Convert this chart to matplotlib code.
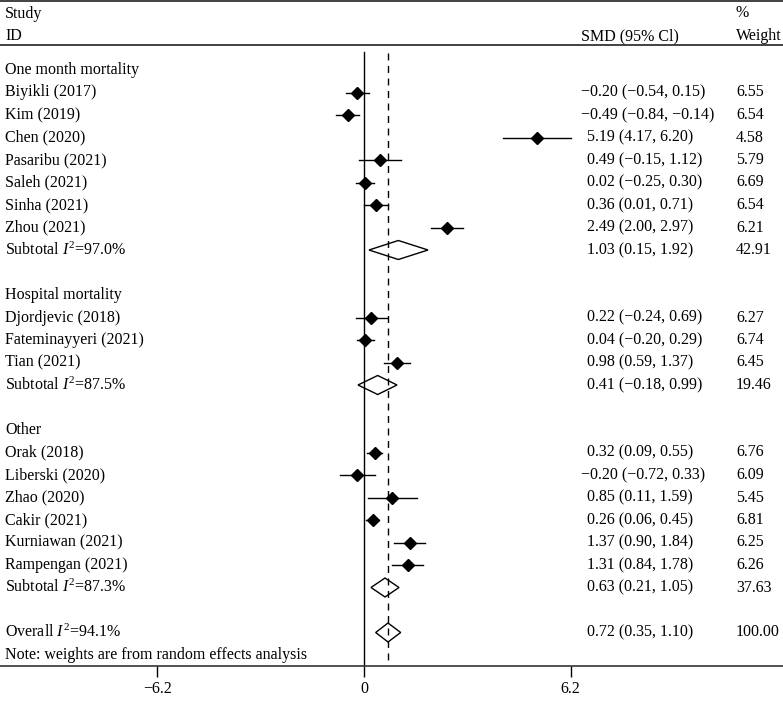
import matplotlib

matplotlib.use("Agg")

import matplotlib.pyplot as plt  # noqa: E402

plt.rcParams["font.family"] = ["Liberation Serif", "DejaVu Serif"]
plt.rcParams["mathtext.fontset"] = "custom"
plt.rcParams["mathtext.rm"] = "Liberation Serif"
plt.rcParams["mathtext.it"] = "Liberation Serif:italic"

# ---------------------------------------------------------------------------
# Data
# ---------------------------------------------------------------------------
GROUPS = ["One month mortality", "Hospital mortality", "Other"]

STUDIES = [
    ["Biyikli (2017)", "Kim (2019)", "Chen (2020)", "Pasaribu (2021)",
     "Saleh (2021)", "Sinha (2021)", "Zhou (2021)"],
    ["Djordjevic (2018)", "Fateminayyeri (2021)", "Tian (2021)"],
    ["Orak (2018)", "Liberski (2020)", "Zhao (2020)", "Cakir (2021)",
     "Kurniawan (2021)", "Rampengan (2021)"],
]
SMD = [
    [-0.20, -0.49, 5.19, 0.49, 0.02, 0.36, 2.49],
    [0.22, 0.04, 0.98],
    [0.32, -0.20, 0.85, 0.26, 1.37, 1.31],
]
CI_LOW = [
    [-0.54, -0.84, 4.17, -0.15, -0.25, 0.01, 2.00],
    [-0.24, -0.20, 0.59],
    [0.09, -0.72, 0.11, 0.06, 0.90, 0.84],
]
CI_HIGH = [
    [0.15, -0.14, 6.20, 1.12, 0.30, 0.71, 2.97],
    [0.69, 0.29, 1.37],
    [0.55, 0.33, 1.59, 0.45, 1.84, 1.78],
]
WEIGHTS = [
    [6.55, 6.54, 4.58, 5.79, 6.69, 6.54, 6.21],
    [6.27, 6.74, 6.45],
    [6.76, 6.09, 5.45, 6.81, 6.25, 6.26],
]

SUB_I2 = ["97.0", "87.5", "87.3"]
SUB_SMD = [1.03, 0.41, 0.63]
SUB_LOW = [0.15, -0.18, 0.21]
SUB_HIGH = [1.92, 0.99, 1.05]
SUB_WEIGHT = [42.91, 19.46, 37.63]

OVERALL_I2 = "94.1"
OVERALL_SMD = 0.72
OVERALL_LOW = 0.35
OVERALL_HIGH = 1.10
OVERALL_WEIGHT = 100.00

XTICKS = [-6.2, 0, 6.2]
XTICK_LABELS = ["\u22126.2", "0", "6.2"]

# ---------------------------------------------------------------------------
# Layout (pixels, measured from the top of the figure)
# ---------------------------------------------------------------------------
W, H = 783, 702
AXIS_Y = 666          # x-axis line
ROW0 = 70             # first group heading
ROW_STEP = 22.5
PX_PER_UNIT = 33.34
ZERO_X = 364
FS = 11.5

X_LABEL = 5
X_CI = 587
X_CI_NEG = 581
X_WT = 736


def fmt(v):
    return f"{v:.2f}".replace("-", "\u2212")


def ci_text(est, lo, hi):
    return f"{fmt(est)} ({fmt(lo)}, {fmt(hi)})"


fig = plt.figure(figsize=(W / 100, H / 100), dpi=100, facecolor="white")
ax = fig.add_axes([0, (H - AXIS_Y) / H, 1, AXIS_Y / H])
ax.set_xlim(-ZERO_X / PX_PER_UNIT, (W - ZERO_X) / PX_PER_UNIT)
ax.set_ylim(AXIS_Y, 0)
ax.set_facecolor("white")

for side in ("top", "left", "right"):
    ax.spines[side].set_visible(False)
ax.spines["bottom"].set_linewidth(1.2)
ax.spines["bottom"].set_color("#333333")
ax.set_yticks([])
ax.set_xticks(XTICKS)
ax.set_xticklabels(XTICK_LABELS, fontsize=FS)
ax.tick_params(axis="x", direction="out", length=8, width=1.0, pad=3)

# header rules
ax.axhline(0.8, color="#333333", lw=1.3)
ax.axhline(45, color="#333333", lw=1.3)

tr_txt = ax.get_yaxis_transform()  # x in axes fraction, y in data


def label(x_px, y, s, **kw):
    ax.text(x_px / W, y, s, transform=tr_txt, fontsize=FS, va="center",
            ha="left", color="black", **kw)


label(X_LABEL, 14, "Study")
label(X_LABEL, 36, "ID")
label(X_CI_NEG, 36, "SMD (95% Cl)")
label(X_WT, 13, "%")
label(X_WT, 36, "Weight")


def ci_label(y, est, lo, hi, wt):
    x = X_CI_NEG if est < 0 else X_CI
    label(x, y, ci_text(est, lo, hi))
    label(X_WT, y, f"{wt:.2f}")


def hollow_diamond(y, est, lo, hi, half_h=9.5):
    ax.fill([lo, est, hi, est, lo], [y, y - half_h, y, y + half_h, y],
            facecolor="none", edgecolor="black", lw=1.0, zorder=4)


row = 0
for g, name in enumerate(GROUPS):
    y = ROW0 + row * ROW_STEP
    label(X_LABEL, y, name)
    row += 1
    for i, study in enumerate(STUDIES[g]):
        y = ROW0 + row * ROW_STEP
        label(X_LABEL, y, study)
        ax.plot([CI_LOW[g][i], CI_HIGH[g][i]], [y, y], color="black",
                lw=1.0, zorder=3)
        ax.plot(SMD[g][i], y, marker="D", color="black", markersize=6,
                zorder=4)
        ci_label(y, SMD[g][i], CI_LOW[g][i], CI_HIGH[g][i], WEIGHTS[g][i])
        row += 1
    y = ROW0 + row * ROW_STEP
    label(X_LABEL, y, f"Subtotal $I^2$={SUB_I2[g]}%")
    hollow_diamond(y, SUB_SMD[g], SUB_LOW[g], SUB_HIGH[g])
    ci_label(y, SUB_SMD[g], SUB_LOW[g], SUB_HIGH[g], SUB_WEIGHT[g])
    row += 2

y = ROW0 + row * ROW_STEP
label(X_LABEL, y, f"Overall $I^2$={OVERALL_I2}%")
hollow_diamond(y, OVERALL_SMD, OVERALL_LOW, OVERALL_HIGH)
ci_label(y, OVERALL_SMD, OVERALL_LOW, OVERALL_HIGH, OVERALL_WEIGHT)
row += 1
y = ROW0 + row * ROW_STEP
label(X_LABEL, y, "Note: weights are from random effects analysis")

# null line and overall-effect line
ax.plot([0, 0], [52, AXIS_Y], color="black", lw=1.0, zorder=2)
ax.plot([OVERALL_SMD, OVERALL_SMD], [53, AXIS_Y], color="black", lw=1.0,
        ls=(0, (5, 4)), zorder=2)

fig.savefig("out.png", dpi=100, facecolor="white")
